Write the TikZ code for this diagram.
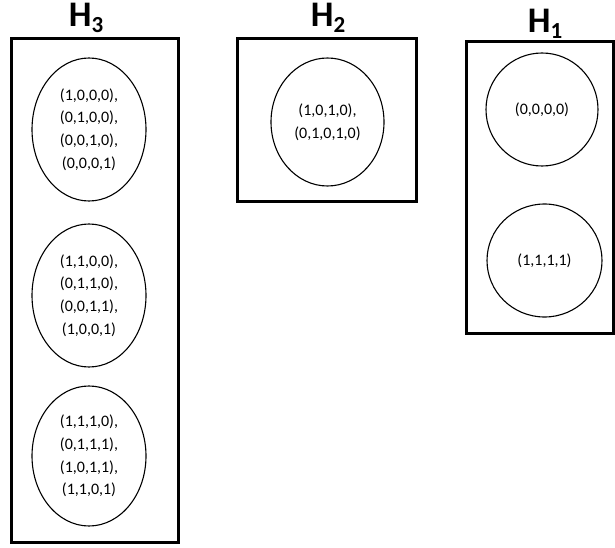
\documentclass[tikz,border=0pt]{standalone}
\usepackage{fontspec}
\setmainfont{Carlito}
\usetikzlibrary{shapes.geometric}
\tikzset{
  groupbox/.style={draw, line width=3pt, rectangle, inner sep=0pt},
  classell/.style={draw, line width=1.1pt, ellipse, inner sep=0pt, align=center,
    font=\fontsize{16}{22.7}\selectfont},
  hlabel/.style={anchor=base, inner sep=0pt, font=\fontsize{36}{36}\selectfont\bfseries}
}
\newcommand{\hsub}[1]{H\raisebox{-6pt}{\fontsize{23}{23}\selectfont #1}}
\begin{document}
\begin{tikzpicture}[x=1pt,y=-1pt]
\useasboundingbox (0,0) rectangle (615,548);
% boxes
\node[groupbox, minimum width=167pt, minimum height=503pt] (b3) at (94.5,290.5) {};
\node[groupbox, minimum width=179pt, minimum height=162pt] (b2) at (326.5,120) {};
\node[groupbox, minimum width=147pt, minimum height=291pt] (b1) at (539.5,187.5) {};
% labels
\node[hlabel] (l3) at (86,27) {\hsub{3}};
\node[hlabel] (l2) at (328,27) {\hsub{2}};
\node[hlabel] (l1) at (545,33) {\hsub{1}};
% H3 ellipses
\node[classell, minimum width=114pt, minimum height=143pt] (e31) at (89,129.5)
  {(1,0,0,0),\\(0,1,0,0),\\(0,0,1,0),\\(0,0,0,1)};
\node[classell, minimum width=114pt, minimum height=143pt] (e32) at (89,295.5)
  {(1,1,0,0),\\(0,1,1,0),\\(0,0,1,1),\\(1,0,0,1)};
\node[classell, minimum width=114pt, minimum height=140pt] (e33) at (89,456)
  {(1,1,1,0),\\(0,1,1,1),\\(1,0,1,1),\\(1,1,0,1)};
% H2 ellipse
\node[classell, minimum width=113pt, minimum height=128pt] (e2) at (327.5,122)
  {(1,0,1,0),\\(0,1,0,1,0)};
% H1 circles
\node[classell, minimum width=112pt, minimum height=113pt] (e11) at (542,109.5) {(0,0,0,0)};
\node[classell, minimum width=115pt, minimum height=113pt] (e12) at (544.5,260.5) {(1,1,1,1)};
\end{tikzpicture}
\end{document}
